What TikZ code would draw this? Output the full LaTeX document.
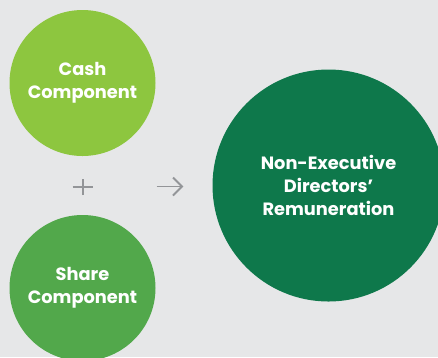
\documentclass[tikz,border=0pt]{standalone}
\usepackage{fontspec}
\setmainfont{Poppins}
\usepackage{xcolor}
\usetikzlibrary{positioning,arrows}

\definecolor{bgrey}{HTML}{E6E7E8}
\definecolor{cashgreen}{HTML}{8DC63F}
\definecolor{sharegreen}{HTML}{52A84B}
\definecolor{nedgreen}{HTML}{0E784B}
\definecolor{signgrey}{HTML}{939598}

\begin{document}
\begin{tikzpicture}[x=1pt,y=-1pt]
\tikzstyle{every node}+=[inner sep=0pt]
\tikzstyle{comp}=[circle,minimum size=146pt,align=center,text=white,font=\fontsize{17.8}{22.8}\selectfont\bfseries]
\useasboundingbox (0,0) rectangle (438,357);
\fill [bgrey] (0,0) rectangle (438,357);
\clip (0,0) rectangle (438,357);
\node [comp,fill=cashgreen] (cash) at (82.5,83) {Cash\\Component};
\node [comp,fill=sharegreen] (share) at (82.5,288) {Share\\Component};
\node [comp,fill=nedgreen,minimum size=232pt] (ned) at (328.5,185.5) {Non-Executive\\Directors’\\Remuneration};
% plus sign
\coordinate (plus) at (82.7,187);
\draw [signgrey,line width=1.8pt] ([xshift=-10pt]plus) -- ([xshift=10pt]plus);
\draw [signgrey,line width=1.8pt] ([yshift=-8pt]plus) -- ([yshift=8pt]plus);
% arrow
\coordinate (arrstart) at (156.5,186.5);
\coordinate (arrend) at (182,186.5);
\draw [signgrey,line width=1.8pt] (arrstart) -- (arrend);
\draw [signgrey,line width=1.8pt,line join=miter] ([xshift=-9pt,yshift=-9pt]arrend) -- (arrend) -- ([xshift=-9pt,yshift=9pt]arrend);
\end{tikzpicture}
\end{document}
